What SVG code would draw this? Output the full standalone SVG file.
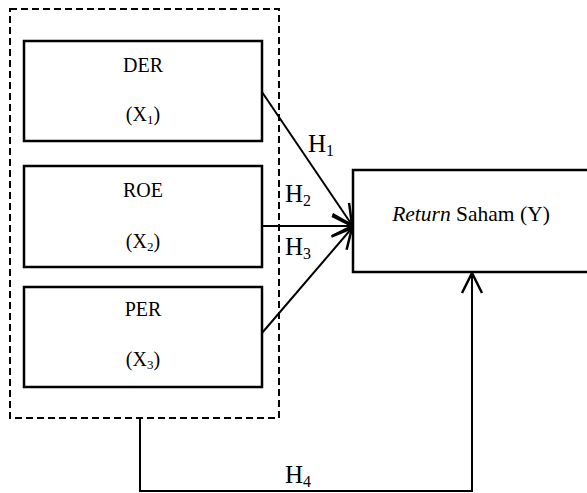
<svg xmlns="http://www.w3.org/2000/svg" width="587" height="493" viewBox="0 0 587 493">
<style>
.box{fill:#fff;stroke:#000;stroke-width:2.5}
.dash{fill:none;stroke:#000;stroke-width:2;stroke-dasharray:7,4}
.ln{fill:none;stroke:#000;stroke-width:2}
.t{font-family:"Liberation Serif","Times New Roman",serif;fill:#000;font-size:20px;text-anchor:middle}
.h{font-family:"Liberation Serif","Times New Roman",serif;fill:#000;font-size:25px}
</style>
<defs>
<marker id="arr" viewBox="-22 -12 24 24" markerWidth="24" markerHeight="24" refX="0" refY="0" markerUnits="userSpaceOnUse" orient="auto">
<path d="M-20,-10 L0,0 L-20,10" fill="none" stroke="#000" stroke-width="2.5"/>
</marker>
</defs>
<g id="group-box"><rect class="dash" x="10" y="9" width="269" height="409"/></g>
<g id="der"><rect class="box" x="24" y="41" width="238" height="100"/>
<text class="t" x="143" y="72">DER</text>
<text class="t" x="143" y="121">(X<tspan font-size="13" dy="3">1</tspan><tspan dy="-3">)</tspan></text></g>
<g id="roe"><rect class="box" x="24" y="166" width="238" height="101"/>
<text class="t" x="143" y="197">ROE</text>
<text class="t" x="143" y="248">(X<tspan font-size="13" dy="3">2</tspan><tspan dy="-3">)</tspan></text></g>
<g id="per"><rect class="box" x="24" y="287" width="238" height="100"/>
<text class="t" x="143" y="316">PER</text>
<text class="t" x="143" y="366">(X<tspan font-size="13" dy="3">3</tspan><tspan dy="-3">)</tspan></text></g>
<g id="return"><rect class="box" x="353" y="170" width="260" height="102"/>
<text class="t" x="471" y="221" style="font-size:21.5px"><tspan font-style="italic">Return</tspan> Saham (Y)</text></g>
<g id="connectors">
<line class="ln" x1="262" y1="92" x2="352" y2="225" marker-end="url(#arr)"/>
<line class="ln" x1="262" y1="226" x2="352" y2="226" marker-end="url(#arr)"/>
<line class="ln" x1="262" y1="333" x2="352" y2="228" marker-end="url(#arr)"/>
<polyline class="ln" points="140,418 140,491 472,491 472,273" marker-end="url(#arr)"/>
<text class="h" x="308" y="152">H<tspan font-size="16" dy="4">1</tspan></text>
<text class="h" x="285" y="202">H<tspan font-size="16" dy="4">2</tspan></text>
<text class="h" x="285" y="255">H<tspan font-size="16" dy="4">3</tspan></text>
<text class="h" x="285" y="483">H<tspan font-size="16" dy="4">4</tspan></text>
</g>
</svg>
